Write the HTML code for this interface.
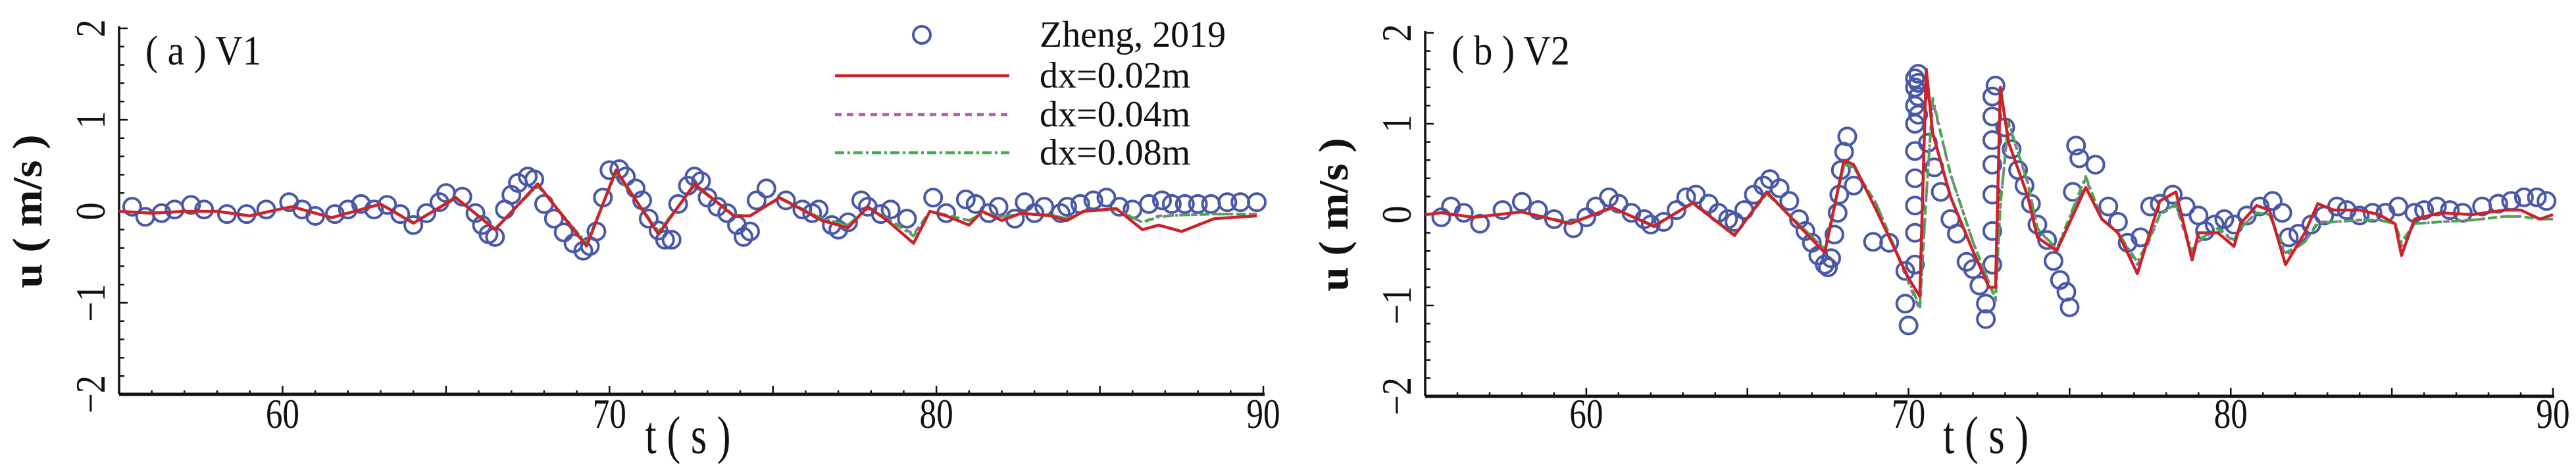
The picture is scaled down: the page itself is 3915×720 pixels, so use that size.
<!DOCTYPE html>
<html><head><meta charset="utf-8"><style>
html,body{margin:0;padding:0;background:#fff}
svg{display:block}
text{font-family:"Liberation Serif",serif;fill:#111}
</style></head><body>
<svg id="fig" width="3915" height="720" viewBox="0 0 3915 720" xmlns="http://www.w3.org/2000/svg"></svg>
<script>
// ---- Panel (a) V1 data ----
const aObsT = [55.4,55.8,56.3,56.7,57.2,57.6,58.3,58.9,59.5,60.2,60.6,61,61.6,62,62.4,62.8,63.2,63.6,64,64.4,64.8,65,65.5,65.9,66.1,66.3,66.5,66.8,67,67.2,67.5,67.7,68,68.3,68.6,68.9,69.2,69.4,69.6,69.8,70,70.3,70.5,70.8,71,71.2,71.5,71.7,71.9,72.1,72.4,72.6,72.8,73,73.3,73.6,73.9,74.1,74.3,74.5,74.8,75.4,75.9,76.2,76.4,76.8,77,77.3,77.7,77.9,78.3,78.6,79.1,79.9,80.3,80.9,81.2,81.6,81.9,82.4,82.7,83,83.3,83.8,84,84.4,84.8,85.2,85.6,86,86.5,86.9,87.2,87.6,88,88.4,88.9,89.3,89.8];
const aObsV = [0.05,-0.06,-0.02,0.02,0.07,0.02,-0.03,-0.03,0.02,0.1,0.02,-0.05,-0.03,0.02,0.08,0.02,0.07,-0.03,-0.15,-0.02,0.1,0.2,0.16,-0.02,-0.15,-0.25,-0.28,0.02,0.18,0.31,0.38,0.35,0.08,-0.08,-0.23,-0.35,-0.43,-0.38,-0.22,0.15,0.45,0.46,0.38,0.25,0.12,-0.08,-0.21,-0.31,-0.31,0.08,0.28,0.38,0.33,0.15,0.05,-0.02,-0.15,-0.28,-0.22,0.12,0.25,0.12,0.02,-0.02,0.02,-0.15,-0.2,-0.12,0.12,0.05,-0.03,0.02,-0.08,0.15,-0.02,0.13,0.08,-0.02,0.05,-0.08,0.1,-0.02,0.05,-0.02,0.05,0.08,0.12,0.15,0.05,0.02,0.08,0.12,0.08,0.08,0.08,0.08,0.1,0.1,0.1];
const aT = [55,56,57,58,59,60,60.3,61.5,63,64,65.3,66.5,67.8,69.3,70.2,71.5,72.6,73.8,74.3,75.2,76.5,77.3,77.9,78.5,79.3,79.8,80.3,81,81.4,82,82.6,83.5,84,84.5,85.5,86.3,86.8,87.5,88.5,89.8];
const aRed = [0,-0.02,0,0,-0.05,0.03,0.05,-0.07,0.08,-0.13,0.15,-0.2,0.3,-0.38,0.45,-0.25,0.3,-0.05,-0.05,0.15,-0.1,-0.18,0.05,-0.1,-0.35,0,-0.05,-0.15,0,-0.1,-0.02,-0.05,-0.1,0,0.03,-0.2,-0.15,-0.22,-0.08,-0.05];
const aMag = [0,-0.02,0,0,-0.05,0.03,0.05,-0.07,0.08,-0.12,0.14,-0.19,0.29,-0.36,0.43,-0.23,0.29,-0.04,-0.05,0.14,-0.08,-0.15,0.03,-0.08,-0.25,0,-0.04,-0.1,-0.02,-0.06,-0.03,-0.04,-0.08,0,0.02,-0.12,-0.05,-0.04,-0.03,-0.03];
const aGrn = [0,-0.02,0,0,-0.05,0.03,0.05,-0.07,0.08,-0.12,0.14,-0.19,0.28,-0.35,0.42,-0.22,0.28,-0.04,-0.05,0.15,-0.08,-0.15,0.04,-0.08,-0.27,0,-0.04,-0.1,-0.02,-0.06,-0.03,-0.04,-0.08,0,0.02,-0.12,-0.06,-0.04,-0.03,-0.03];
// ---- Panel (b) V2 data ----
const bObsT = [55.5,55.8,56.2,56.7,57.4,58,58.5,59,59.6,60,60.3,60.7,61,61.4,61.8,62,62.4,62.8,63.1,63.4,63.8,64.1,64.4,64.6,64.9,65.2,65.5,65.7,66,66.3,66.6,66.8,67,67.2,67.4,67.5,67.6,67.7,67.8,67.85,67.9,68,68.1,68.3,68.9,69.4,69.9,69.9,70,70.2,70.2,70.2,70.2,70.2,70.2,70.2,70.2,70.2,70.3,70.3,70.3,70.3,70.6,70.8,71,71.3,71.5,71.8,72,72.2,72.4,72.4,72.6,72.6,72.6,72.6,72.6,72.6,72.6,72.7,73,73.2,73.4,73.6,73.8,74,74.3,74.5,74.7,74.9,75,75.1,75.3,75.2,75.8,76.2,76.5,76.8,77.2,77.5,77.8,78.2,78.6,79,79.2,79.5,79.8,80.1,80.5,80.9,81.3,81.6,81.8,82.1,82.5,82.9,83.3,83.6,84,84.4,84.8,85.2,85.7,86,86.4,86.8,87.2,87.8,88.3,88.7,89.1,89.5,89.8];
const bObsV = [-0.03,0.09,0.02,-0.1,0.05,0.14,0.05,-0.05,-0.15,-0.03,0.09,0.19,0.12,0.02,-0.05,-0.11,-0.08,0.05,0.19,0.22,0.12,0.02,-0.05,-0.08,0.05,0.22,0.32,0.39,0.29,0.15,-0.05,-0.18,-0.31,-0.45,-0.55,-0.58,-0.48,-0.22,0.02,0.22,0.49,0.69,0.86,0.32,-0.3,-0.31,-0.62,-0.98,-1.22,-0.55,-0.2,0.1,0.4,0.7,1.0,1.2,1.4,1.5,1.55,1.45,1.3,1.1,0.79,0.52,0.25,-0.05,-0.21,-0.52,-0.6,-0.78,-0.98,-1.15,-0.55,-0.18,0.22,0.55,0.82,1.08,1.3,1.42,0.96,0.72,0.49,0.32,0.12,-0.11,-0.28,-0.51,-0.72,-0.85,-1.02,0.25,0.62,0.76,0.55,0.09,-0.08,-0.31,-0.25,0.09,0.12,0.22,0.09,-0.01,-0.18,-0.11,-0.05,-0.11,-0.01,0.09,0.15,0.02,-0.25,-0.21,-0.11,-0.01,0.09,0.05,-0.01,0.02,0.02,0.09,0.02,0.05,0.09,0.05,0.02,0.09,0.12,0.15,0.19,0.19,0.15];
const bT = [55,55.5,56.5,58,59.5,60.8,62.1,63.3,64.6,65.6,67.4,68,68.3,69,70,70.35,70.55,70.75,71.3,72,72.5,72.7,72.85,73.1,73.7,74,74.6,75.5,76,76.5,77.1,77.4,77.8,78.3,78.8,79,79.6,80.1,80.3,80.8,81.2,81.7,82.3,82.7,83.2,84,84.6,85.1,85.3,85.7,86.5,87.5,88.5,89,89.6,90];
const bRed = [0,0.02,-0.03,0.03,-0.1,0.08,-0.13,0.13,-0.23,0.25,-0.42,0.6,0.55,0.05,-0.7,-0.9,1.6,0.9,0.2,-0.4,-0.8,-0.8,1.4,0.8,0.2,-0.25,-0.4,0.3,-0.05,-0.2,-0.65,-0.3,0.15,0.25,-0.5,-0.2,-0.2,-0.35,-0.1,0.1,0.05,-0.55,-0.2,0.12,0.05,0.05,0,-0.1,-0.45,-0.05,0.02,0,0.05,0.05,-0.05,0];
const bMag = [0,0.02,-0.03,0.03,-0.09,0.07,-0.12,0.12,-0.22,0.24,-0.38,0.55,0.52,0.12,-0.75,-1.05,0.2,1.25,0.45,-0.3,-0.75,-0.95,0.1,1.0,0.35,-0.15,-0.4,0.4,-0.05,-0.2,-0.55,-0.35,0,0.1,-0.45,-0.3,-0.15,-0.3,-0.15,0.02,0,-0.45,-0.3,-0.08,-0.08,-0.06,-0.06,-0.1,-0.35,-0.1,-0.08,-0.06,-0.02,-0.02,-0.05,-0.05];
const bGrn = [0,0.02,-0.03,0.03,-0.09,0.07,-0.12,0.13,-0.22,0.23,-0.38,0.55,0.52,0.12,-0.72,-1.02,0.2,1.28,0.45,-0.3,-0.75,-0.92,0.1,1.02,0.35,-0.15,-0.38,0.42,-0.05,-0.2,-0.52,-0.32,0,0.12,-0.4,-0.28,-0.15,-0.28,-0.15,0.02,0,-0.42,-0.3,-0.1,-0.08,-0.06,-0.06,-0.1,-0.3,-0.1,-0.08,-0.06,-0.02,-0.02,-0.05,-0.05];
const xTicks = [60,70,80,90];
const yTicks = [-2,-1,0,1,2];

const NS = "http://www.w3.org/2000/svg";
const svg = document.getElementById('fig');
function mk(tag, attrs, parent){const e=document.createElementNS(NS,tag);for(const k in attrs)e.setAttribute(k,attrs[k]);(parent||svg).appendChild(e);return e;}

function panel(cfg){
  const g = mk('g',{});
  
  
  const X = t => cfg.x0 + (t-55)/(90-55)*(cfg.x1-cfg.x0);
  const Y = v => cfg.y0 - v*(cfg.y0-cfg.yTop)/2;
  const yb = Y(-2), yt = Y(2);
  const ax = mk('line',{x1:cfg.x0,y1:yt-3,x2:cfg.x0,y2:yb,stroke:'#111','stroke-width':3.5},g);
  
  
  const bx = mk('line',{x1:cfg.x0,y1:yb,x2:cfg.x1+2,y2:yb,stroke:'#111','stroke-width':5},g);
  
  
  for(let t=56;t<=90;t++){
    const len = (t%5===0)?13:6;
    mk('line',{x1:X(t),y1:yb,x2:X(t),y2:yb-len,stroke:'#111','stroke-width':2.5},g);
  }
  for(let i=-10;i<=10;i++){
    const v=i/5, len=(i%5===0)?13:8;
    mk('line',{x1:cfg.x0,y1:Y(v),x2:cfg.x0+len,y2:Y(v),stroke:'#111','stroke-width':2.5},g);
  }
  xTicks.forEach(t=>{
    const tx = mk('text',{x:0,y:0,'font-size':64,'text-anchor':'middle',transform:`translate(${X(t)},650) scale(0.8,1)`},g);
    tx.textContent=String(t);
    
    
  });
  yTicks.forEach(v=>{
    const lx = cfg.x0-22, ly=Y(v);
    const ty = mk('text',{x:0,y:0,'font-size':64,'text-anchor':'middle',transform:`translate(${lx},${ly}) rotate(-90) scale(0.85,1)`},g);
    ty.textContent = v<0 ? '\u2212'+Math.abs(v) : String(v);
    
    
  });
  const yl = mk('text',{x:0,y:0,'font-size':64,'font-weight':'bold','text-anchor':'middle',transform:`translate(${cfg.x0-118},${Y(0)}) rotate(-90) scale(1.05,1)`},g);
  yl.textContent='u ( m/s )';
  
  
  const xl = mk('text',{x:0,y:0,'font-size':80,'text-anchor':'middle',transform:`translate(${X(72.4)},688) scale(0.78,1)`},g);
  xl.textContent='t ( s )';
  
  
  const pl = mk('text',{x:0,y:0,'font-size':64,transform:`translate(${cfg.x0+40},98) scale(0.9,1)`},g);
  pl.textContent=cfg.label;
  
  
  cfg.obsT.forEach((t,i)=>{
    const c = mk('circle',{cx:X(t),cy:Y(cfg.obsV[i]),r:13,fill:'none',stroke:'#4a58a8','stroke-width':4},g);
    
    
  });
  const series=[[cfg.mag,'#b85cb4','10,8','dx-0.04m-line'],[cfg.grn,'#3fae49','14,5,4,5','dx-0.08m-line'],[cfg.red,'#cc2229','','dx-0.02m-line']];
  series.forEach(s=>{
    const pts = cfg.t.map((t,i)=>X(t).toFixed(1)+','+Y(s[0][i]).toFixed(1)).join(' ');
    const p = mk('polyline',{points:pts,fill:'none',stroke:s[1],'stroke-width':s[2]?4:4.5,'stroke-dasharray':s[2]||'none','stroke-linejoin':'round'},g);
    
    
  });
}
panel({name:'panel-a-v1',label:'( a ) V1',x0:181,x1:1920,y0:321,yTop:43,obsT:aObsT,obsV:aObsV,t:aT,red:aRed,mag:aMag,grn:aGrn});
panel({name:'panel-b-v2',label:'( b ) V2',x0:2166,x1:3880,y0:326,yTop:50,obsT:bObsT,obsV:bObsV,t:bT,red:bRed,mag:bMag,grn:bGrn});

const lg = mk('g',{});


const lc = mk('circle',{cx:1401,cy:53,r:13,fill:'none',stroke:'#4a58a8','stroke-width':4},lg);


const legItems=[['Zheng, 2019',53,null,''],['dx=0.02m',115,'#cc2229',''],['dx=0.04m',174,'#b85cb4','10,8'],['dx=0.08m',232,'#3fae49','14,5,4,5']];
legItems.forEach(it=>{
  if(it[2]){
    const l = mk('line',{x1:1269,y1:it[1],x2:1534,y2:it[1],stroke:it[2],'stroke-width':4.5,'stroke-dasharray':it[3]||'none'},lg);
    
    
  }
  const t = mk('text',{x:0,y:0,'font-size':56,transform:`translate(1580,${it[1]+18})`},lg);
  t.textContent=it[0];
  
  
});
</script>
</body></html>
